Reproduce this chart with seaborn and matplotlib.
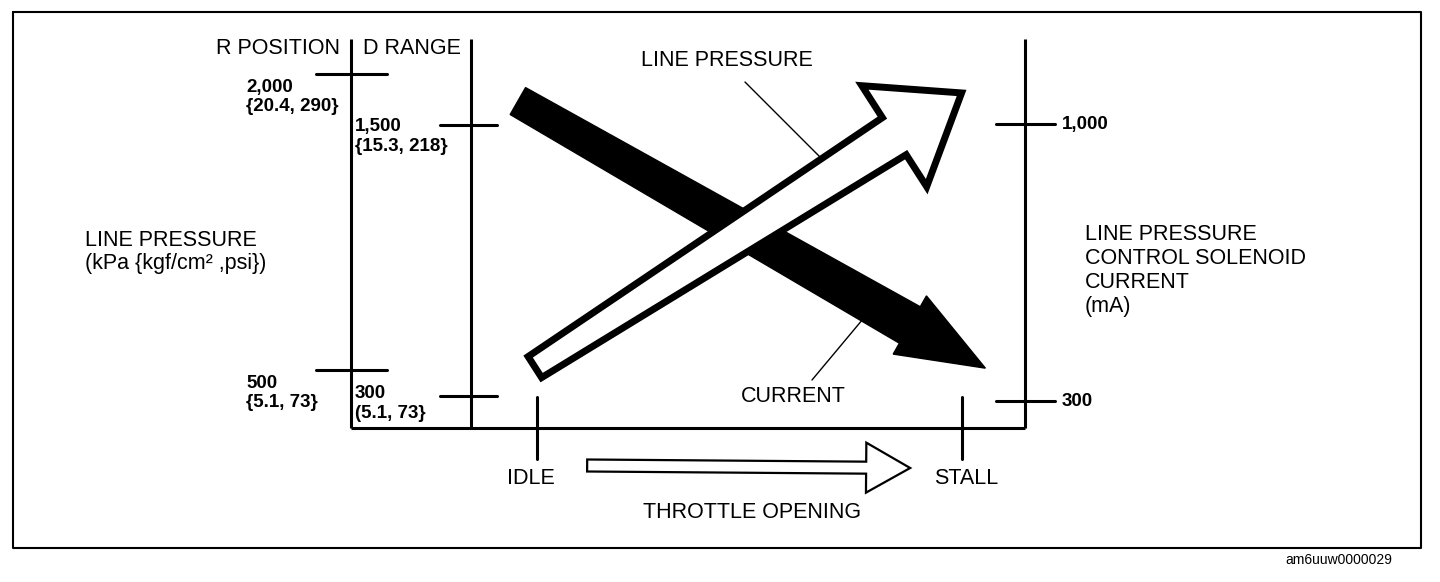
import numpy as np
import matplotlib
matplotlib.use("Agg")
import matplotlib.pyplot as plt
from matplotlib.patches import Polygon
import seaborn as sns

# throttle opening on the x axis (0 = idle, 1 = stall)
throttle_labels = ["IDLE", "STALL"]
throttle_stops = [0.0, 1.0]

# left scale, R position (kPa)
r_ticks = [2000, 500]
r_labels = ["2,000", "500"]
r_sub = ["{20.4, 290}", "{5.1, 73}"]

# left scale, D range (kPa)
d_ticks = [1500, 300]
d_labels = ["1,500", "300"]
d_sub = ["{15.3, 218}", "(5.1, 73}"]

# right scale, solenoid current (mA)
ma_ticks = [1000, 300]
ma_labels = ["1,000", "300"]

# trend arrows, tail -> tip
lp_throttle = [-0.005, 0.999]
lp_kpa = [428, 1642]            # line pressure, read on the D range scale
cur_throttle = [-0.045, 1.055]
cur_ma = [1058, 383]            # solenoid current

sns.set_theme(style="white")
plt.rcParams["font.family"] = ["Liberation Sans", "DejaVu Sans"]
plt.rcParams["text.color"] = "black"

W, H = 1440, 582
fig = plt.figure(figsize=(14.4, 5.82), dpi=100)
base = fig.add_axes([0, 0, 1, 1])
base.set_xlim(0, W)
base.set_ylim(H, 0)
base.axis("off")

X_IDLE, X_STALL = 537, 962


def scaled_axes(v0, p0, v1, p1):
    # invisible axes over the figure: throttle on x, value v0 at pixel row p0, v1 at p1
    ax = fig.add_axes([0, 0, 1, 1], frameon=False)
    k = (p1 - p0) / (v1 - v0)
    ax.set_ylim(v0 + (H - p0) / k, v0 - p0 / k)
    sx = X_STALL - X_IDLE
    ax.set_xlim(-X_IDLE / sx, (W - X_IDLE) / sx)
    ax.axis("off")
    return ax


def to_base(ax, xs, ys):
    disp = ax.transData.transform(np.column_stack([xs, ys]))
    return base.transData.inverted().transform(disp)


ax_r = scaled_axes(500, 370, 2000, 74)
ax_d = scaled_axes(300, 396, 1500, 125)
ax_ma = scaled_axes(300, 401, 1000, 124)


def arrow_poly(p_tail, p_tip, w_tail, w_base, head_w, head_len):
    p_tail, p_tip = np.asarray(p_tail), np.asarray(p_tip)
    u = (p_tip - p_tail) / np.linalg.norm(p_tip - p_tail)
    n = np.array([-u[1], u[0]])
    b = p_tip - u * head_len
    return np.array([
        p_tail + n * w_tail / 2, b + n * w_base / 2, b + n * head_w / 2, p_tip,
        b - n * head_w / 2, b - n * w_base / 2, p_tail - n * w_tail / 2,
    ])


lw_axis = 2.2
label_fs = 15.5
num_fs = 13.5

# outer frame
base.plot([13, 1421, 1421, 13, 13], [12, 12, 548, 548, 12], color="black", lw=1.5)

# chart axes
for x in (351, 471, 1025):
    base.plot([x, x], [39, 428], color="black", lw=lw_axis, solid_capstyle="butt")
base.plot([351, 1025], [428, 428], color="black", lw=lw_axis, solid_capstyle="butt")

# R position ticks
r_y = to_base(ax_r, [0] * len(r_ticks), r_ticks)[:, 1]
for y, lab, sub in zip(r_y, r_labels, r_sub):
    base.plot([316, 387], [y, y], color="black", lw=lw_axis)
    base.text(246, y + 14, lab, fontsize=num_fs, fontweight="bold", ha="left", va="center")
    base.text(246, y + 33, sub, fontsize=num_fs, fontweight="bold", ha="left", va="center")

# D range ticks (labels sit below the upper tick, straddle the lower one)
d_y = to_base(ax_d, [0] * len(d_ticks), d_ticks)[:, 1]
for y, lab, sub, off in zip(d_y, d_labels, d_sub, [2, -3]):
    base.plot([440, 497], [y, y], color="black", lw=lw_axis)
    base.text(355, y + off, lab, fontsize=num_fs, fontweight="bold", ha="left", va="center")
    base.text(355, y + off + 20, sub, fontsize=num_fs, fontweight="bold", ha="left", va="center")

# current ticks
ma_y = to_base(ax_ma, [0] * len(ma_ticks), ma_ticks)[:, 1]
for y, lab in zip(ma_y, ma_labels):
    base.plot([996, 1055], [y, y], color="black", lw=lw_axis)
    base.text(1062, y, lab, fontsize=num_fs, fontweight="bold", ha="left", va="center")

# throttle ticks
th_x = to_base(ax_ma, throttle_stops, [300] * len(throttle_stops))[:, 0]
for x, lab, off in zip(th_x, throttle_labels, [-6, 4]):
    base.plot([x, x], [397, 459], color="black", lw=lw_axis)
    base.text(x + off, 479, lab, fontsize=label_fs, ha="center", va="center")

# solenoid current arrow (black)
cur_pts = to_base(ax_ma, cur_throttle, cur_ma)
base.add_patch(Polygon(arrow_poly(cur_pts[0], cur_pts[1], 31, 42, 67, 87),
                       closed=True, facecolor="black", edgecolor="black", lw=1, zorder=3))

# line pressure arrow (hollow, on top)
lp_pts = to_base(ax_d, lp_throttle, lp_kpa)
base.add_patch(Polygon(arrow_poly(lp_pts[0], lp_pts[1], 25, 44, 120, 80),
                       closed=True, facecolor="white", edgecolor="black", lw=5,
                       joinstyle="miter", zorder=4))

# throttle opening arrow
tp = to_base(ax_ma, [0.118, 0.878], [300, 300])
base.add_patch(Polygon(arrow_poly((tp[0, 0], 465.5), (tp[1, 0], 468), 12, 12, 50, 44),
                       closed=True, facecolor="white", edgecolor="black", lw=1.6,
                       joinstyle="miter", zorder=3))

# leader lines and labels
base.plot([745, 823], [82, 160], color="black", lw=1.0, zorder=5)
base.plot([812, 868], [380, 313], color="black", lw=1.0, zorder=5)
base.text(727, 60, "LINE PRESSURE", fontsize=label_fs, ha="center", va="center")
base.text(793, 397, "CURRENT", fontsize=label_fs, ha="center", va="center")
base.text(752, 512, "THROTTLE OPENING", fontsize=label_fs, ha="center", va="center")

base.text(216, 49, "R POSITION", fontsize=label_fs, ha="left", va="center")
base.text(363, 49, "D RANGE", fontsize=label_fs, ha="left", va="center")

base.text(85, 241, "LINE PRESSURE", fontsize=label_fs, ha="left", va="center")
base.text(85, 264, "(kPa {kgf/cm² ,psi})", fontsize=label_fs, ha="left", va="center")

for i, line in enumerate(["LINE PRESSURE", "CONTROL SOLENOID", "CURRENT", "(mA)"]):
    base.text(1085, 234 + 24.3 * i, line, fontsize=label_fs, ha="left", va="center")

base.text(1392, 560, "am6uuw0000029", fontsize=10, ha="right", va="center")

fig.savefig("out.png", dpi=100, facecolor="white")
